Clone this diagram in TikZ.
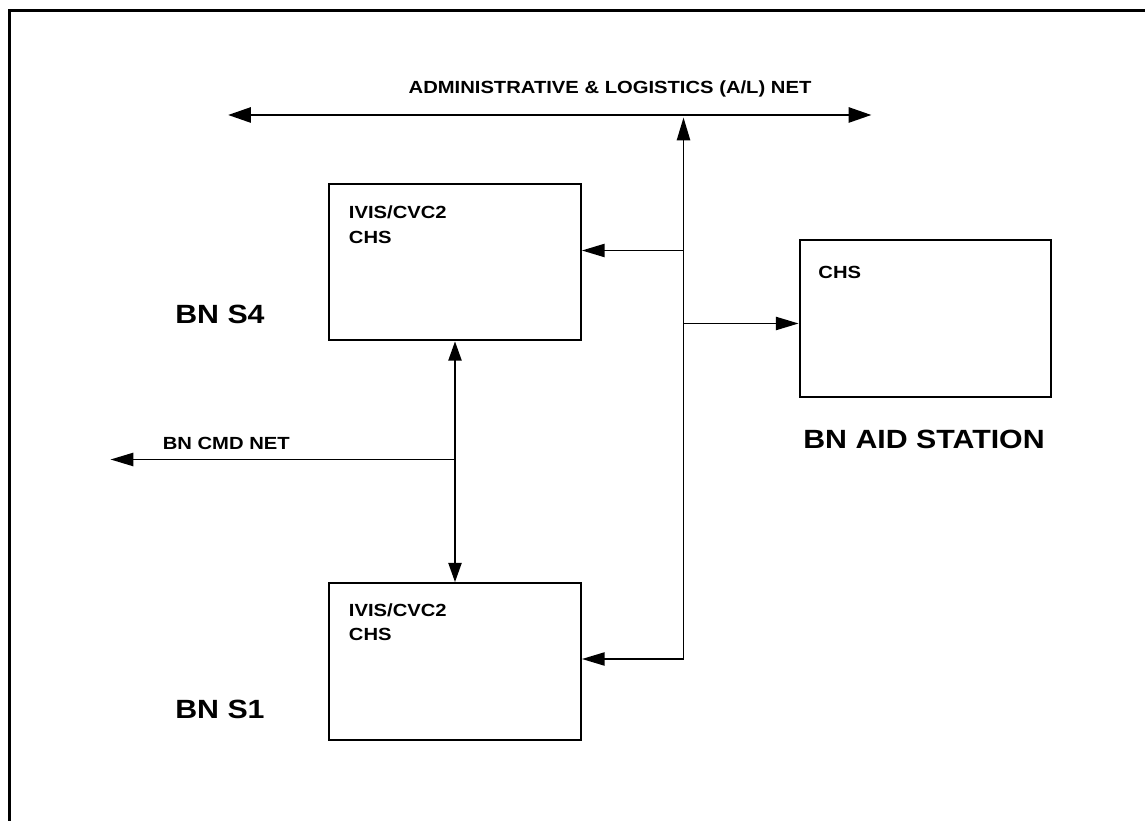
\documentclass[tikz,border=0pt]{standalone}
\usepackage{fontspec}
\setmainfont{Liberation Sans}[FakeStretch=1.15]
\usepackage{tikz}
\usetikzlibrary{positioning,arrows.meta}

\begin{document}
\begin{tikzpicture}[
  unit/.style={draw, line width=1.3pt, minimum width=5.03cm, minimum height=3.13cm, inner sep=0pt},
  boxtxt/.style={anchor=north west, inner sep=0pt, align=left,
                 font=\bfseries\fontsize{10}{14}\selectfont},
  smalltxt/.style={inner sep=0pt, font=\bfseries\fontsize{10}{12}\selectfont},
  bigtxt/.style={inner sep=0pt, font=\bfseries\fontsize{15}{18}\selectfont},
  arr/.style={-{Triangle[length=13pt,width=7.5pt]}, line width=1.1pt},
  twoarr/.style={{Triangle[length=11pt,width=7.5pt]}-{Triangle[length=11pt,width=7.5pt]}, line width=1.1pt},
  netarr/.style={{Triangle[length=13pt,width=8.5pt]}-{Triangle[length=13pt,width=8.5pt]}, line width=1.6pt},
  frame/.style={line width=1.7pt},
]
\useasboundingbox (0,0) rectangle (22.9,16.4);
\fill[white] (0,0) rectangle (22.9,16.4);

% page frame (top and left edge only)
\draw[frame] (0.186,-0.2) |- (23.1,16.19);

% A/L net across the top
\coordinate (alL) at (4.56,14.1);
\coordinate (alR) at (17.43,14.1);
\draw[netarr] (alL) -- (alR);
\node[smalltxt, anchor=base] (alnet) at (12.2,14.53) {ADMINISTRATIVE \& LOGISTICS (A/L) NET};

% the three stations
\node[unit] (s4) at (9.1,11.16) {};
\node[unit] (s1) at (9.1,3.17) {};
\node[unit] (aid) at (18.51,10.03) {};

\node[boxtxt, below right=0.46cm and 0.41cm of s4.north west] (s4txt) {IVIS/CVC2\\CHS};
\node[boxtxt, below right=0.42cm and 0.41cm of s1.north west] (s1txt) {IVIS/CVC2\\CHS};
\node[boxtxt, below right=0.53cm and 0.39cm of aid.north west] (aidtxt) {CHS};

\node[bigtxt, anchor=base west] (s4lbl) at (3.5,9.93) {BN S4};
\node[bigtxt, anchor=base west] (s1lbl) at (3.5,2.04) {BN S1};
\node[bigtxt, anchor=base] (aidlbl) at (18.48,7.43) {BN AID STATION};

% bus from the A/L net down to the stations
\coordinate (busT) at (13.67,14.05);
\coordinate (j4) at (13.67,11.39);
\coordinate (jaid) at (13.67,9.93);
\coordinate (j1) at (13.67,3.22);
\draw[arr] (j1) -- (busT);
\draw[arr] (j4) -- (j4 -| s4.east);
\draw[arr] (jaid) -- (jaid -| aid.west);
\draw[arr] (j1) -- (j1 -| s1.east);

% S4 <-> S1 and the BN CMD net
\draw[twoarr] (s4.south) -- (s1.north);
\coordinate (cmdj) at (9.1,7.21);
\coordinate (cmdL) at (2.21,7.21);
\draw[arr] (cmdj) -- (cmdL);
\node[smalltxt, anchor=base west] (cmdnet) at (3.25,7.41) {BN CMD NET};
\end{tikzpicture}
\end{document}
